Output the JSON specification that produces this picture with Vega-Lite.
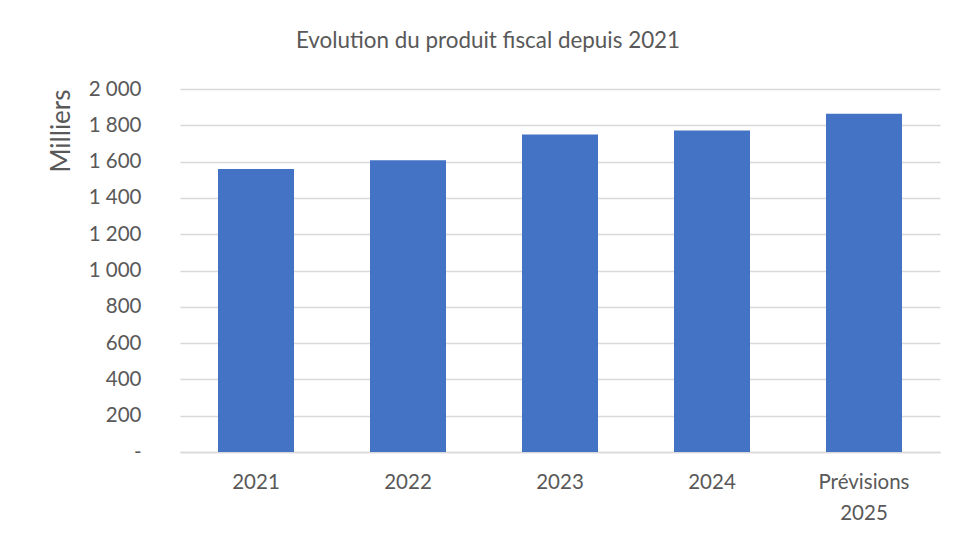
{
  "$schema": "https://vega.github.io/schema/vega-lite/v6.json",
  "width": 760,
  "height": 363,
  "autosize": {"type": "none"},
  "padding": {"left": 180, "top": 89, "right": 17, "bottom": 88},
  "background": "white",
  "title": {
    "text": "Evolution du produit fiscal depuis 2021",
    "font": "Lato",
    "fontSize": 22.4,
    "fontWeight": "normal",
    "color": "#595959",
    "anchor": "middle",
    "dx": -72,
    "offset": 27
  },
  "data": {
    "values": [
      {"annee": "2021", "valeur": 1559},
      {"annee": "2022", "valeur": 1607},
      {"annee": "2023", "valeur": 1750},
      {"annee": "2024", "valeur": 1772},
      {"annee": "Prévisions 2025", "valeur": 1863}
    ]
  },
  "mark": {"type": "bar", "color": "#4472C4"},
  "encoding": {
    "x": {
      "field": "annee",
      "type": "nominal",
      "sort": null,
      "scale": {"paddingInner": 0.5, "paddingOuter": 0.25},
      "axis": {
        "title": null,
        "labelAngle": 0,
        "labelFont": "Lato",
        "labelFontSize": 20.5,
        "labelColor": "#595959",
        "labelPadding": 20,
        "labelLineHeight": 31,
        "ticks": false,
        "domain": true,
        "domainColor": "#d9d9d9",
        "domainWidth": 1.5,
        "labelExpr": "datum.label == 'Prévisions 2025' ? ['Prévisions', '2025'] : datum.label"
      }
    },
    "y": {
      "field": "valeur",
      "type": "quantitative",
      "scale": {"domain": [0, 2000], "nice": false},
      "axis": {
        "title": "Milliers",
        "titleFont": "Lato",
        "titleFontSize": 26,
        "titleFontWeight": "normal",
        "titleColor": "#595959",
        "titlePadding": 14,
        "titleAnchor": "end",
        "values": [0, 200, 400, 600, 800, 1000, 1200, 1400, 1600, 1800, 2000],
        "labelExpr": "datum.value == 0 ? '-' : replace(format(datum.value, ','), ',', ' ')",
        "labelFont": "Lato",
        "labelFontSize": 20.5,
        "labelColor": "#595959",
        "labelPadding": 39,
        "ticks": false,
        "domain": false,
        "gridColor": "#d9d9d9",
        "gridWidth": 1.5
      }
    }
  },
  "config": {"view": {"stroke": null}}
}
